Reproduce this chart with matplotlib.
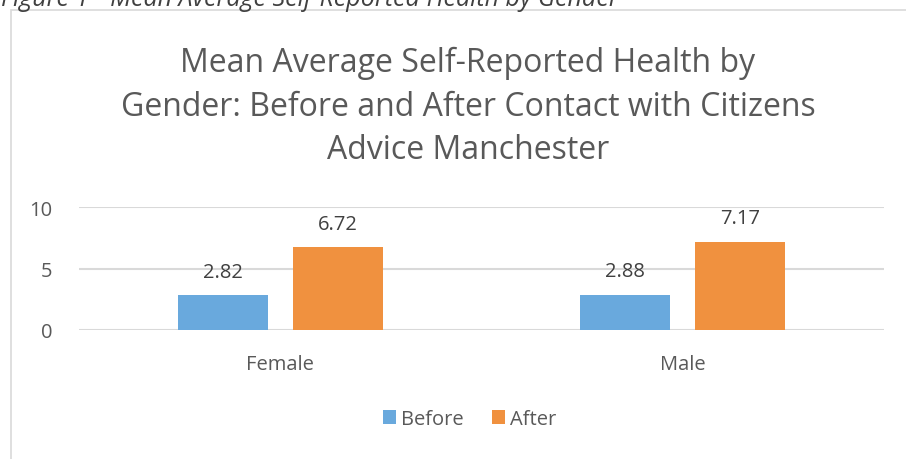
import matplotlib.pyplot as plt
from matplotlib.patches import Rectangle

categories = ["Female", "Male"]
before_values = [2.82, 2.88]
after_values = [6.72, 7.17]
series_names = ["Before", "After"]
y_ticks = [0, 5, 10]

caption = "Figure 1 - Mean Average Self-Reported Health by Gender"
title = ("Mean Average Self-Reported Health by\n"
         "Gender: Before and After Contact with Citizens\n"
         "Advice Manchester")

BLUE = "#69A9DD"
ORANGE = "#F0913F"
TEXT = "#595959"
LABEL = "#404040"
GRID = "#D9D9D9"

plt.rcParams["font.family"] = ["Open Sans", "DejaVu Sans"]

W, H = 906, 460
fig = plt.figure(figsize=(W / 100, H / 100), dpi=100)


def px(x, y):
    return x / W, 1 - y / H


# outer chart frame, open at right and bottom
fig.patches.append(Rectangle(px(10.5, 480), 1.2, 469.5 / H, transform=fig.transFigure,
                             fill=False, edgecolor=GRID, linewidth=1.2))

# clipped caption above the frame
cx, cy = px(1, 5.5)
fig.text(cx, cy, caption, fontsize=18, style="italic", color="#404040",
         ha="left", va="baseline")

tx, ty = px(468, 107)
fig.text(tx, ty, title, fontsize=23, color=TEXT, ha="center", va="center",
         linespacing=1.42)

left, bottom = px(79, 331)
right, top = px(884, 208)
ax = fig.add_axes([left, bottom, right - left, top - bottom])

x = range(len(categories))
width = 0.224
offset = 0.143
b1 = ax.bar([i - offset for i in x], before_values, width, color=BLUE, label=series_names[0])
b2 = ax.bar([i + offset for i in x], after_values, width, color=ORANGE, label=series_names[1])

for bars, vals in ((b1, before_values), (b2, after_values)):
    for bar, v in zip(bars, vals):
        ax.annotate(f"{v:.2f}", (bar.get_x() + bar.get_width() / 2, v),
                    xytext=(0, 13.5), textcoords="offset points",
                    ha="center", va="baseline", fontsize=14.5, color=LABEL)

ax.set_xlim(-0.5, 1.5)
ax.set_ylim(0, 10)
ax.set_yticks(y_ticks)
ax.yaxis.grid(True, color=GRID, linewidth=1.5)
ax.set_axisbelow(True)
for s in ax.spines.values():
    s.set_visible(False)
ax.set_xticks(list(x))
ax.set_xticklabels(categories)
ax.tick_params(axis="both", length=0, labelsize=14.5, colors=TEXT)
ax.tick_params(axis="y", pad=19)
ax.tick_params(axis="x", pad=17)

lx, ly = px(470, 420)
fig.legend(handles=[b1, b2], loc="center", bbox_to_anchor=(lx, ly), ncol=2,
           frameon=False, fontsize=14.5, labelcolor=TEXT, handlelength=0.65,
           handleheight=0.65, handletextpad=0.25, columnspacing=1.4)

fig.savefig("out.png", dpi=100)
